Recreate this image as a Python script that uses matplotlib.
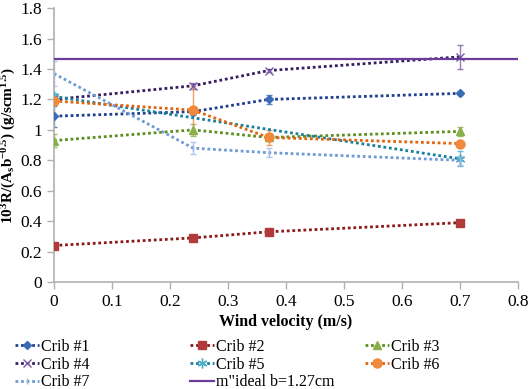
import matplotlib.pyplot as plt

plt.rcParams['font.family'] = ['Liberation Serif', 'DejaVu Serif']
plt.rcParams['mathtext.fontset'] = 'custom'
plt.rcParams['mathtext.rm'] = 'Liberation Serif:bold'
plt.rcParams['mathtext.bf'] = 'Liberation Serif:bold'
plt.rcParams['mathtext.it'] = 'Liberation Serif:bold'
plt.rcParams['mathtext.default'] = 'bf'

# wind velocity (m/s)
wind = [0, 0.24, 0.37, 0.7]
wind5 = [0, 0.7]   # crib 5 was only tested at two speeds

crib1 = [1.09, 1.12, 1.20, 1.24]
crib2 = [0.24, 0.29, 0.33, 0.39]
crib3 = [0.93, 1.00, 0.95, 0.99]
crib4 = [1.20, 1.29, 1.39, 1.48]
crib5 = [1.22, 0.81]
crib6 = [1.19, 1.13, 0.95, 0.91]
crib7 = [1.37, 0.88, 0.85, 0.80]
ideal = 1.465

err1 = [0.07, 0.02, 0.03, 0.01]
err2 = [0.01, 0.01, 0.01, 0.01]
err3 = [0.04, 0.04, 0.02, 0.03]
err4 = [0.02, 0.02, 0.01, 0.08]
err5 = [0.02, 0.05]
err6 = [0.02, 0.16, 0.05, 0.01]
err7 = [0.08, 0.04, 0.03, 0.03]

fig = plt.figure(figsize=(5.29, 3.89), dpi=100)
ax = fig.add_axes([0.102, 0.275, 0.877, 0.704])

series = [
    ('Crib #1', wind, crib1, err1, '#1F3F8F', '#3A6BB5', 'D', 4.5),
    ('Crib #2', wind, crib2, err2, '#8B1A1A', '#B23A3A', 's', 5.5),
    ('Crib #3', wind, crib3, err3, '#5E8F1E', '#8AB04A', '^', 5.5),
    ('Crib #4', wind, crib4, err4, '#35205F', '#7A5CA8', 'x', 6),
    ('Crib #5', wind5, crib5, err5, '#1A7E9E', '#4BACC6', (6, 2, 0), 7),
    ('Crib #6', wind, crib6, err6, '#E0640E', '#F0893C', 'o', 6.5),
    ('Crib #7', wind, crib7, err7, '#6F9AD3', '#9DBBE3', '|', 4),
]

handles = {}
for name, xs, vals, err, lc, mc, mk, ms in series:
    ax.errorbar(xs, vals, yerr=err, fmt='none', ecolor=mc, elinewidth=1,
                capsize=2.5, capthick=1, zorder=2, alpha=0.8)
    h, = ax.plot(xs, vals, color=lc, linestyle=(0, (1, 1)), linewidth=2,
                 marker=mk, markersize=ms, markerfacecolor=mc, markeredgecolor=mc,
                 label=name, zorder=3)
    handles[name] = h

hi, = ax.plot([0, 0.8], [ideal, ideal], color='#6A3D9A', linewidth=1.6,
              label='m"ideal b=1.27cm', zorder=4)
handles['ideal'] = hi

ax.set_xlim(0, 0.8)
ax.set_ylim(0, 1.8)
ax.set_xticks([0, 0.1, 0.2, 0.3, 0.4, 0.5, 0.6, 0.7, 0.8])
ax.set_xticklabels(['0', '0.1', '0.2', '0.3', '0.4', '0.5', '0.6', '0.7', '0.8'])
ax.set_yticks([0, 0.2, 0.4, 0.6, 0.8, 1.0, 1.2, 1.4, 1.6, 1.8])
ax.set_yticklabels(['0', '0.2', '0.4', '0.6', '0.8', '1', '1.2', '1.4', '1.6', '1.8'])
ax.tick_params(labelsize=12.5, color='#B0B0B0', length=5, width=1)
for s in ['top', 'right']:
    ax.spines[s].set_visible(False)
for s in ['left', 'bottom']:
    ax.spines[s].set_color('#B0B0B0')
    ax.spines[s].set_linewidth(1.2)

ax.set_xlabel('Wind velocity (m/s)', fontsize=11.5, fontweight='bold', labelpad=3)
ax.set_ylabel(r'10$^{3}$R/(A$_{s}$b$^{-0.5}$) (g/scm$^{1.5}$)', fontsize=11,
              fontweight='bold')
ax.yaxis.set_label_coords(-0.078, 0.5)

columns = [['Crib #1', 'Crib #4', 'Crib #7'],
           ['Crib #2', 'Crib #5', 'ideal'],
           ['Crib #3', 'Crib #6']]
col_x = [15, 190, 365]
for names, x in zip(columns, col_x):
    leg = fig.legend([handles[k] for k in names], [handles[k].get_label() for k in names],
                     loc='upper left', bbox_to_anchor=(x / 529, (389 - 339) / 389),
                     frameon=False, fontsize=11.5, handlelength=1.5, handletextpad=0.15,
                     labelspacing=0.1, borderpad=0, borderaxespad=0)

fig.savefig('out.png', dpi=100)
